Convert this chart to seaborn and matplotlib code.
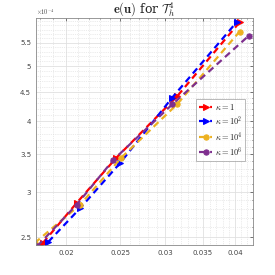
import matplotlib
matplotlib.use("Agg")
import matplotlib.pyplot as plt
import seaborn as sns
import pandas as pd
import numpy as np
from matplotlib.ticker import FixedLocator, FixedFormatter, NullFormatter

sns.set_style("white")
plt.rcParams['mathtext.fontset'] = 'cm'

# data
x_k1 = [0.0182, 0.0209, 0.0246, 0.0315, 0.0408]
y_k1 = [2.44e-4, 2.87e-4, 3.45e-4, 4.42e-4, 5.99e-4]
x_k2 = [0.0186, 0.0212, 0.0250, 0.0309, 0.0403]
y_k2 = [2.45e-4, 2.81e-4, 3.38e-4, 4.40e-4, 5.99e-4]
x_k4 = [0.0176, 0.0212, 0.0251, 0.0315, 0.0407]
y_k4 = [2.44e-4, 2.85e-4, 3.45e-4, 4.28e-4, 5.75e-4]
x_k6 = [0.0178, 0.0209, 0.0243, 0.0309, 0.0423]
y_k6 = [2.41e-4, 2.85e-4, 3.42e-4, 4.28e-4, 5.66e-4]

labels = [r"$\kappa=1$", r"$\kappa=10^2$", r"$\kappa=10^4$", r"$\kappa=10^6$"]
colors = ["#ff0000", "#0000ff", "#EDB120", "#7E2F8E"]
markers = [">", ">", "o", "o"]

xticks = [0.02, 0.025, 0.03, 0.035, 0.04]
xticklabels = ["0.02", "0.025", "0.03", "0.035", "0.04"]
yticks = [2.5e-4, 3e-4, 3.5e-4, 4e-4, 4.5e-4, 5e-4, 5.5e-4]
yticklabels = ["2.5", "3", "3.5", "4", "4.5", "5", "5.5"]

fig = plt.figure(figsize=(2.75, 2.75), dpi=100)
ax = fig.add_axes([0.131, 0.109, 0.789, 0.826])

series = [(x_k1, y_k1), (x_k2, y_k2), (x_k4, y_k4), (x_k6, y_k6)]
for (xs, ys), lab, c, m in zip(series, labels, colors, markers):
    df = pd.DataFrame({"h": xs, "err": ys})
    sns.lineplot(data=df, x="h", y="err", ax=ax, color=c, marker=m,
                 markersize=3.8, markeredgecolor=c, linestyle=(0, (3, 2)),
                 linewidth=1.6, label=lab, sort=False, estimator=None)

ax.set_xscale("log")
ax.set_yscale("log")
ax.set_xlim(0.0177, 0.0430)
ax.set_ylim(2.42e-4, 6.08e-4)

ax.xaxis.set_major_locator(FixedLocator(xticks))
ax.xaxis.set_major_formatter(FixedFormatter(xticklabels))
ax.xaxis.set_minor_locator(FixedLocator(list(np.arange(0.018, 0.043, 0.001))))
ax.xaxis.set_minor_formatter(NullFormatter())
ax.yaxis.set_major_locator(FixedLocator(yticks))
ax.yaxis.set_major_formatter(FixedFormatter(yticklabels))
ax.yaxis.set_minor_locator(FixedLocator(list(np.arange(2.5e-4, 6.1e-4, 0.1e-4))))
ax.yaxis.set_minor_formatter(NullFormatter())

ax.grid(True, which="major", color="#e0e0e0", linewidth=0.6)
ax.grid(True, which="minor", color="#d8d8d8", linestyle=":", linewidth=0.5)
ax.set_axisbelow(True)
ax.tick_params(which="both", direction="in", top=True, right=True,
               labelsize=5, colors="#444444", length=2, width=0.5)
ax.tick_params(which="minor", length=1)
for s in ax.spines.values():
    s.set_color("#888888")
    s.set_linewidth(0.6)
ax.set_xlabel("")
ax.set_ylabel("")

ax.text(0.0, 1.005, r"$\times10^{-4}$", transform=ax.transAxes, fontsize=4.5,
        color="#444444", ha="left", va="bottom")

ax.set_title(r"$\mathbf{e}(\mathbf{u})$ for $\mathcal{T}_h^4$", fontsize=9,
             family="DejaVu Serif", pad=3)

leg = ax.legend(loc="lower right", bbox_to_anchor=(0.965, 0.37), fontsize=6,
                frameon=True, fancybox=False, edgecolor="#888888",
                handlelength=1.6, borderpad=0.35, labelspacing=0.3,
                handletextpad=0.3, borderaxespad=0.0)
leg.get_frame().set_linewidth(0.5)

fig.savefig("out.png", dpi=100)
